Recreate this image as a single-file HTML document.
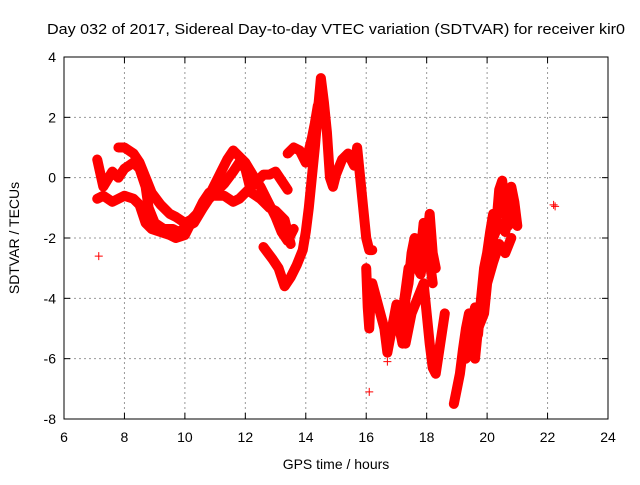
<!DOCTYPE html>
<html><head><meta charset="utf-8"><style>
body{margin:0;background:#fff;width:640px;height:480px;overflow:hidden}
text{font-family:"Liberation Sans",sans-serif;font-size:14px;fill:#000}
</style></head><body>
<svg id="chart" width="640" height="480" viewBox="0 0 640 480" xmlns="http://www.w3.org/2000/svg">
<g id="grid"></g>
<g id="series"></g>
<rect x="64" y="57" width="544" height="362" fill="none" stroke="#000" stroke-width="1"/>
<g id="axes"></g>
<text x="47" y="34" textLength="578" lengthAdjust="spacingAndGlyphs" style="font-size:15px">Day 032 of 2017, Sidereal Day-to-day VTEC variation (SDTVAR) for receiver kir0</text>
<text x="336" y="469" text-anchor="middle">GPS time / hours</text>
<text x="19" y="238" text-anchor="middle" transform="rotate(-90 19 238)">SDTVAR / TECUs</text>
</svg>
<script>
const xTicks=[6,8,10,12,14,16,18,20,22,24];
const yTicks=[4,2,0,-2,-4,-6,-8];
const trackAx=[7.8,8.0,8.3,8.5,8.7,8.9,9.2,9.5,9.7,10.0,10.2,10.5,10.7,11.0,11.2,11.4,11.6,11.8,12.0,12.3,12.5,12.8,13.0,13.2,13.4,13.6];
const trackAy=[1.0,1.0,0.8,0.5,0.0,-0.5,-0.9,-1.2,-1.3,-1.5,-1.4,-1.1,-0.8,-0.2,0.2,0.6,0.9,0.7,0.5,0.0,-0.3,-0.9,-1.3,-1.8,-2.1,-1.7];
const trackBx=[7.1,7.3,7.6,7.8,8.0,8.3,8.5,8.7,8.8,9.0,9.3,9.6,9.8,10.1,10.3,10.6,10.8,11.1,11.3,11.6,11.8,12.0,12.2,12.5,12.8,13.0,13.3,13.5];
const trackBy=[0.6,-0.3,0.2,0.0,0.3,0.5,0.3,-0.3,-1.0,-1.5,-1.7,-1.7,-1.8,-1.6,-1.5,-1.0,-0.7,-0.4,-0.2,0.2,0.5,0.3,-0.5,-0.7,-1.0,-1.1,-1.4,-2.2];
const trackCx=[7.1,7.3,7.6,8.0,8.3,8.5,8.7,8.9,9.2,9.5,9.7,10.0,10.2,10.4,10.6,10.8,11.0,11.3,11.6,11.8,12.1,12.3,12.6,12.8,13.0,13.2,13.4];
const trackCy=[-0.7,-0.6,-0.8,-0.6,-0.7,-0.9,-1.5,-1.7,-1.8,-1.9,-2.0,-1.9,-1.5,-1.2,-0.8,-0.5,-0.6,-0.6,-0.8,-0.7,-0.4,-0.2,0.1,0.1,0.2,-0.1,-0.4];
const trackDx=[12.6,12.9,13.1,13.3,13.5,13.7,13.9,14.0,14.1,14.2,14.3,14.4,14.5,14.6,14.7,14.8,14.9,15.0,15.2,15.4,15.6,15.7,15.8,15.9,16.0,16.1,16.2];
const trackDy=[-2.3,-2.7,-3.0,-3.6,-3.3,-2.9,-2.4,-1.8,-1.0,0.0,1.0,2.2,3.3,2.5,1.5,0.0,-0.3,0.1,0.6,0.8,0.4,1.0,0.0,-1.0,-2.0,-2.4,-2.4];
const trackEx=[13.4,13.6,13.8,14.0,14.1,14.2,14.3,14.4];
const trackEy=[0.8,1.0,0.9,0.5,0.9,1.3,1.8,2.4];
const trackFx=[16.0,16.05,16.1,16.15,16.2,16.6,16.7,17.0,17.1,17.2,17.3,17.4,17.5,17.6,17.7,17.8,17.9,18.0,18.1,18.2,18.3];
const trackFy=[-3.0,-4.3,-5.0,-3.8,-3.5,-5.0,-5.8,-4.2,-5.0,-5.5,-4.0,-3.5,-2.5,-2.0,-3.0,-2.5,-1.5,-2.2,-1.2,-2.5,-3.0];
const trackGx=[17.3,17.5,17.7,17.9,18.0,18.1,18.2,18.3,18.6];
const trackGy=[-5.5,-4.5,-4.0,-3.5,-4.5,-5.5,-6.3,-6.5,-4.5];
const trackHx=[18.9,19.0,19.1,19.2,19.3,19.4,19.5,19.6,19.7,19.8,19.9,20.0,20.1,20.2,20.3,20.4,20.5,20.6,20.7,20.8,20.9,21.0];
const trackHy=[-7.5,-7.0,-6.5,-5.7,-5.0,-4.5,-4.8,-4.3,-5.2,-4.0,-3.0,-2.5,-1.8,-1.2,-1.6,-0.4,-0.1,-1.0,-1.6,-0.3,-0.8,-1.6];
const trackIx=[19.3,19.5,19.6,19.7,19.9,20.0,20.2,20.4,20.6,20.8];
const trackIy=[-6.0,-5.5,-6.0,-5.0,-4.5,-3.5,-2.8,-2.2,-2.5,-2.0];
const trackJx=[17.2,17.4,17.6,17.8,18.0,18.2];
const trackJy=[-4.5,-3.0,-2.8,-3.2,-2.0,-3.5];
const trackKx=[19.4,19.6,19.8,20.0,20.2,20.4,20.6,20.8];
const trackKy=[-5.0,-5.5,-4.5,-3.0,-2.0,-1.5,-1.8,-0.8];
const isolatedX=[7.15,16.1,16.7,22.2,22.25];
const isolatedY=[-2.6,-7.1,-6.1,-0.9,-0.95];

const L=64,R=608,T=57,B=419;
const xs=v=>L+(v-6)/18*(R-L);
const ys=v=>T+(4-v)/12*(B-T);
const NS='http://www.w3.org/2000/svg';
function mk(tag,parent,attrs){const e=document.createElementNS(NS,tag);for(const k in attrs)e.setAttribute(k,attrs[k]);parent.appendChild(e);return e;}
const grid=document.getElementById('grid'),axes=document.getElementById('axes'),ser=document.getElementById('series');
xTicks.forEach(t=>{
  const x=xs(t);
  if(t>6&&t<24){const g=mk('line',grid,{x1:x,x2:x,y1:T,y2:B,stroke:'#999','stroke-dasharray':'2,3'});
  
  }
  mk('line',axes,{x1:x,x2:x,y1:B,y2:B-6,stroke:'#000'});
  mk('line',axes,{x1:x,x2:x,y1:T,y2:T+6,stroke:'#000'});
  const tx=mk('text',axes,{x:x,y:B+23,'text-anchor':'middle'});tx.textContent=t;
  
  
});
yTicks.forEach(t=>{
  const y=ys(t);
  if(t<4&&t>-8){const g=mk('line',grid,{x1:L,x2:R,y1:y,y2:y,stroke:'#999','stroke-dasharray':'2,3'});
  
  }
  mk('line',axes,{x1:L,x2:L+6,y1:y,y2:y,stroke:'#000'});
  mk('line',axes,{x1:R,x2:R-6,y1:y,y2:y,stroke:'#000'});
  const tx=mk('text',axes,{x:L-8,y:y+5,'text-anchor':'end'});tx.textContent=t;
  
  
});
const tracks=[[trackAx,trackAy],[trackBx,trackBy],[trackCx,trackCy],[trackDx,trackDy],[trackEx,trackEy],[trackFx,trackFy],[trackGx,trackGy],[trackHx,trackHy],[trackIx,trackIy],[trackJx,trackJy],[trackKx,trackKy]];
tracks.forEach(([X,Y])=>{
  const pl=mk('polyline',ser,{points:X.map((x,i)=>xs(x)+','+ys(Y[i])).join(' '),fill:'none',stroke:'#f00','stroke-width':10,'stroke-linejoin':'round','stroke-linecap':'round'});
  
  
});
function plus(x,y){const p=mk('path',ser,{d:`M${x-4},${y}h8M${x},${y-4}v8`,stroke:'#f00','stroke-width':1});
  
  }
tracks.forEach(([X,Y])=>X.forEach((x,i)=>plus(xs(x),ys(Y[i]))));
isolatedX.forEach((x,i)=>plus(xs(x),ys(isolatedY[i])));
</script>
</body></html>
